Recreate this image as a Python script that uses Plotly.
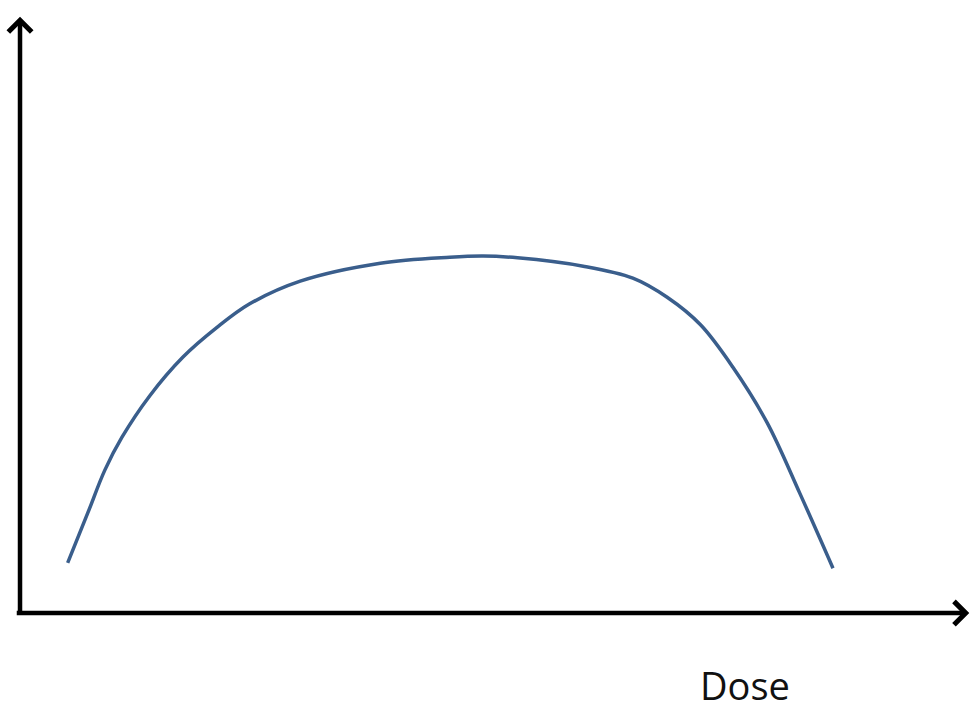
import plotly.graph_objects as go

# Dose-response curve (arbitrary units)
dose = [0.50, 0.71, 0.89, 1.07, 1.36, 1.71, 2.07, 2.41, 2.94, 3.78, 4.51,
        4.86, 5.22, 5.91, 6.43, 6.79, 7.14, 7.48, 7.84, 8.18, 8.53]
response = [0.84, 1.67, 2.39, 2.94, 3.63, 4.28, 4.78, 5.17, 5.55, 5.85, 5.95,
            5.97, 5.94, 5.80, 5.60, 5.28, 4.82, 4.11, 3.18, 2.01, 0.75]

x_label = "Dose"

# axis extents (data units)
x_axis_start, x_axis_end = -0.05, 9.96
y_axis_start, y_axis_end = 0.0, 9.97

fig = go.Figure()
fig.add_trace(go.Scatter(
    x=dose, y=response, mode="lines",
    line=dict(color="#3a5e8c", width=3.5, shape="spline", smoothing=1.0),
    hoverinfo="skip",
))

arrow_common = dict(text="", showarrow=True, xref="x", yref="y", axref="x", ayref="y",
                    arrowhead=4, arrowsize=1.0, arrowwidth=4.5, arrowcolor="#000000",
                    standoff=0, startstandoff=0)

# x axis arrow
fig.add_annotation(x=x_axis_end, y=0, ax=x_axis_start, ay=0, **arrow_common)
# y axis arrow
fig.add_annotation(x=0, y=y_axis_end, ax=0, ay=-0.02, **arrow_common)

fig.add_annotation(x=7.61, y=-1.20, text=x_label, showarrow=False,
                   xref="x", yref="y", xanchor="center", yanchor="middle",
                   font=dict(family="Open Sans", size=38, color="#111111"))

fig.update_layout(
    width=975, height=704,
    margin=dict(l=0, r=0, t=0, b=0),
    paper_bgcolor="white", plot_bgcolor="white",
    showlegend=False,
    xaxis=dict(range=[-0.21, 10.02], visible=False, fixedrange=True),
    yaxis=dict(range=[-1.52, 10.25], visible=False, fixedrange=True),
)

fig.write_html("out.html", config={"displayModeBar": False},
               post_script="document.body.style.margin='0px';document.body.style.overflow='hidden';")
